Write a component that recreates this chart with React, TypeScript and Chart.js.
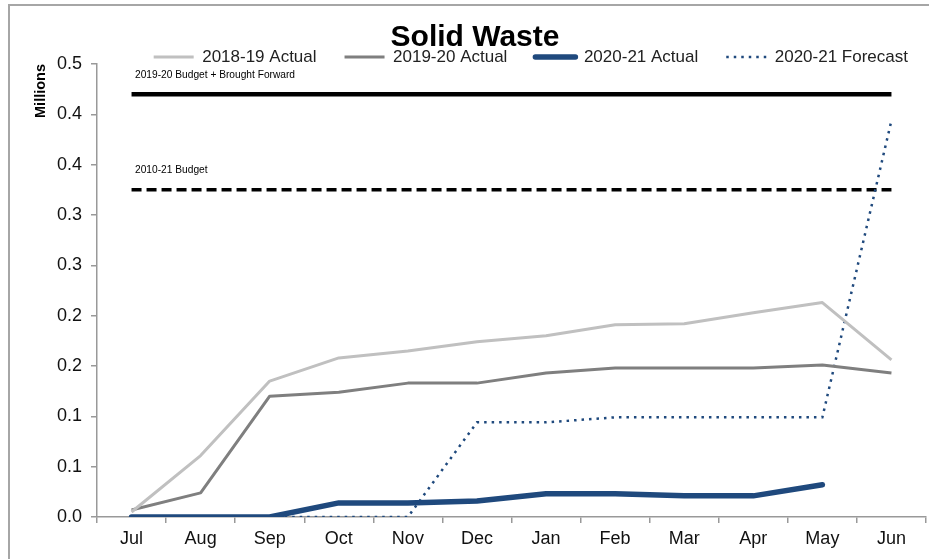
import React, { useEffect, useRef } from "react";
import { Chart, registerables } from "chart.js";

Chart.register(...registerables);

const FONT = "'Liberation Sans', Arial, sans-serif";

const months = ["Jul", "Aug", "Sep", "Oct", "Nov", "Dec", "Jan", "Feb", "Mar", "Apr", "May", "Jun"];
const actual1819 = [0.005, 0.061, 0.135, 0.158, 0.165, 0.174, 0.18, 0.191, 0.192, 0.203, 0.213, 0.156];
const actual1920 = [0.007, 0.024, 0.12, 0.124, 0.133, 0.133, 0.143, 0.148, 0.148, 0.148, 0.151, 0.143];
const actual2021 = [0, 0, 0, 0.014, 0.014, 0.016, 0.023, 0.023, 0.021, 0.021, 0.032, null];
const forecast2021 = [null, null, 0, 0, 0, 0.094, 0.094, 0.099, 0.099, 0.099, 0.099, 0.394];
const budgetBF = [0.42, 0.42, 0.42, 0.42, 0.42, 0.42, 0.42, 0.42, 0.42, 0.42, 0.42, 0.42];
const budget2021 = [0.325, 0.325, 0.325, 0.325, 0.325, 0.325, 0.325, 0.325, 0.325, 0.325, 0.325, 0.325];
const budgetLabels = ["2019-20 Budget + Brought Forward", "2010-21 Budget"];
const yTickLabels = ["0.0", "0.1", "0.1", "0.2", "0.2", "0.3", "0.3", "0.4", "0.4", "0.5"];

const budgetTextPlugin = {
  id: "budgetText",
  afterDatasetsDraw(chart: any) {
    const ctx = chart.ctx;
    const xs = chart.scales.x;
    const ys = chart.scales.y;
    ctx.save();
    ctx.font = `10.2px ${FONT}`;
    ctx.fillStyle = "#000";
    ctx.textAlign = "left";
    ctx.textBaseline = "middle";
    [4, 5].forEach((dsIndex, i) => {
      const v = chart.data.datasets[dsIndex].data[0];
      const x = xs.getPixelForValue(0) + 3.5;
      const y = ys.getPixelForValue(v) - 19.5;
      ctx.fillText(budgetLabels[i], x, y);
    });
    ctx.restore();
  },
};

const legendShiftPlugin = {
  id: "legendShift",
  afterLayout(chart: any) {
    if (chart.legend) {
      chart.legend.left += 10;
      chart.legend.right += 10;
    }
  },
};

export default function App() {
  const ref = useRef<HTMLCanvasElement | null>(null);

  useEffect(() => {
    if (!ref.current) return;
    const chart = new Chart(ref.current, {
      type: "line",
      data: {
        labels: months,
        datasets: [
          {
            label: "2018-19 Actual",
            data: actual1819,
            borderColor: "#c0c0c0",
            borderWidth: 3,
            pointRadius: 0,
            tension: 0,
            borderJoinStyle: "round",
          },
          {
            label: "2019-20 Actual",
            data: actual1920,
            borderColor: "#7f7f7f",
            borderWidth: 3,
            pointRadius: 0,
            tension: 0,
            borderJoinStyle: "round",
          },
          {
            label: "2020-21 Actual",
            data: actual2021,
            borderColor: "#1f497d",
            borderWidth: 5.5,
            pointRadius: 0,
            tension: 0,
            borderCapStyle: "round",
            borderJoinStyle: "round",
          },
          {
            label: "2020-21 Forecast",
            data: forecast2021,
            borderColor: "#1f497d",
            borderWidth: 2.5,
            borderDash: [2.5, 5],
            pointRadius: 0,
            tension: 0,
          },
          {
            label: budgetLabels[0],
            data: budgetBF,
            borderColor: "#000",
            borderWidth: 4.5,
            pointRadius: 0,
            tension: 0,
          },
          {
            label: budgetLabels[1],
            data: budget2021,
            borderColor: "#000",
            borderWidth: 3.5,
            borderDash: [10, 5],
            pointRadius: 0,
            tension: 0,
          },
        ],
      },
      options: {
        animation: false,
        responsive: true,
        maintainAspectRatio: false,
        layout: { padding: { left: 24, right: 3, top: 0, bottom: 0 } },
        plugins: {
          title: {
            display: true,
            text: "Solid Waste",
            color: "#000",
            font: { family: FONT, size: 30, weight: "bold", lineHeight: 1 },
            padding: { top: 22.5, bottom: -32 },
          },
          legend: {
            display: true,
            position: "top",
            align: "end",
            maxHeight: 43.5,
            labels: {
              usePointStyle: true,
              pointStyle: "line",
              pointStyleWidth: 40,
              padding: 28,
              color: "#222",
              font: { family: FONT, size: 17 },
              generateLabels: (chart: any) => {
                const items = Chart.defaults.plugins.legend.labels.generateLabels(chart);
                return items
                  .filter((it: any) => it.datasetIndex < 4)
                  .map((it: any) => {
                    const ds: any = chart.data.datasets[it.datasetIndex];
                    it.lineDash = ds.borderDash || [];
                    it.lineWidth = ds.borderWidth;
                    it.strokeStyle = ds.borderColor;
                    it.lineCap = ds.borderCapStyle || "butt";
                    return it;
                  });
              },
            },
          },
          tooltip: { enabled: false },
        },
        scales: {
          x: {
            offset: true,
            grid: {
              offset: true,
              drawOnChartArea: false,
              drawTicks: true,
              tickLength: 6,
              color: "#999",
              lineWidth: 1.5,
            },
            border: { display: true, color: "#999", width: 1.5 },
            ticks: {
              color: "#111",
              font: { family: FONT, size: 18 },
              padding: 5,
              maxRotation: 0,
              autoSkip: false,
            },
            afterFit: (s: any) => {
              s.height = 42;
            },
          },
          y: {
            min: 0,
            max: 0.45,
            grid: {
              drawOnChartArea: false,
              drawTicks: true,
              tickLength: 6,
              color: "#999",
              lineWidth: 1.5,
            },
            border: { display: true, color: "#999", width: 1.5 },
            ticks: {
              stepSize: 0.05,
              color: "#111",
              font: { family: FONT, size: 18 },
              padding: 9,
              callback: (_v: any, i: number) => yTickLabels[i],
            },
            title: {
              display: true,
              text: "Millions",
              align: "end",
              color: "#000",
              font: { family: FONT, size: 14.5, weight: "bold" },
              padding: { top: 8.4, bottom: 0 },
            },
            afterFit: (s: any) => {
              s.width = 73;
            },
          },
        },
      },
      plugins: [budgetTextPlugin, legendShiftPlugin],
    } as any);
    return () => chart.destroy();
  }, []);

  return (
    <div
      style={{
        position: "fixed",
        left: 0,
        top: 0,
        width: 929,
        height: 559,
        overflow: "hidden",
        background: "#fff",
      }}
    >
      <div
        style={{
          position: "absolute",
          left: 8,
          top: 4,
          width: 1000,
          height: 1000,
          borderLeft: "2px solid #a6a6a6",
          borderTop: "2px solid #a6a6a6",
        }}
      />
      <div style={{ position: "absolute", left: 0, top: 0, width: 929, height: 559 }}>
        <canvas ref={ref} />
      </div>
    </div>
  );
}
